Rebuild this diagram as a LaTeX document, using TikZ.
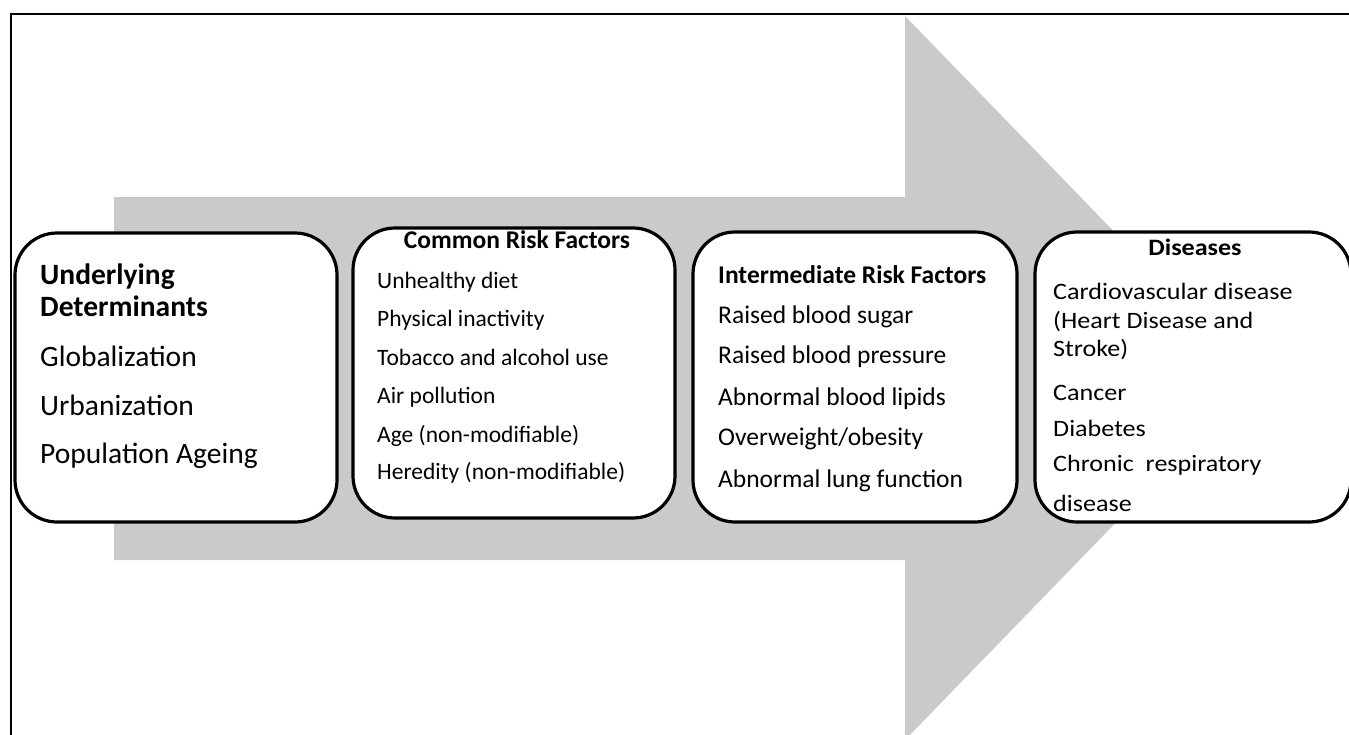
\documentclass[tikz,border=0pt]{standalone}
\usepackage{fontspec}
\setmainfont{Carlito}
\usepackage{graphicx}
\definecolor{arrowgray}{RGB}{202,202,202}
\tikzset{
  stage/.style={draw=black, line width=3.2pt, fill=white, rounded corners=42pt, inner sep=0pt},
  txt/.style={anchor=base west, inner sep=0pt},
  hdr/.style={anchor=base, inner sep=0pt},
}
\newcommand{\fsA}{\fontsize{29.5}{31}\selectfont}
\newcommand{\fsB}{\fontsize{23.5}{25}\selectfont}
\newcommand{\fsC}{\fontsize{25.5}{27}\selectfont}
\newcommand{\fsD}{\fontsize{23.5}{24}\selectfont}
\newcommand{\wide}[1]{\scalebox{1.11}[1]{#1}}
\begin{document}
\begin{tikzpicture}[x=1pt,y=-1pt]
\useasboundingbox (0,0) rectangle (1349,734);
\clip (0,0) rectangle (1349,734);
% frame
\draw[line width=2.5pt] (11,760) -- (11,14) -- (1380,14);
% big arrow
\coordinate (a1) at (114,197);
\coordinate (a2) at (905,197);
\coordinate (a3) at (905,16);
\coordinate (tip) at (1256,378);
\coordinate (a5) at (905,740);
\coordinate (a6) at (905,560);
\coordinate (a7) at (114,560);
\fill[arrowgray] (a1) -- (a2) -- (a3) -- (tip) -- (a5) -- (a6) -- (a7) -- cycle;
% boxes
\node[stage, minimum width=322pt, minimum height=289pt] (b1) at (176,377.5) {};
\node[stage, minimum width=322pt, minimum height=290pt] (b2) at (514,373) {};
\node[stage, minimum width=324pt, minimum height=290pt] (b3) at (855,377) {};
\node[stage, minimum width=316pt, minimum height=290pt] (b4) at (1193,377) {};
% box 1
\node[txt, font=\fsA\bfseries] (t1h1) at (40,284) {Underlying};
\node[txt, font=\fsA\bfseries] (t1h2) at (40,316) {Determinants};
\node[txt, font=\fsA] (t1a) at (40,366) {Globalization};
\node[txt, font=\fsA] (t1b) at (40,415) {Urbanization};
\node[txt, font=\fsA] (t1c) at (40,463) {Population Ageing};
% box 2
\node[hdr, font=\fsC\bfseries] (t2h) at (517,248) {Common Risk Factors};
\node[txt, font=\fsB] (t2a) at (377,288) {Unhealthy diet};
\node[txt, font=\fsB] (t2b) at (377,326) {Physical inactivity};
\node[txt, font=\fsB] (t2c) at (377,365) {Tobacco and alcohol use};
\node[txt, font=\fsB] (t2d) at (377,403) {Air pollution};
\node[txt, font=\fsB] (t2e) at (377,442) {Age (non-modifiable)};
\node[txt, font=\fsB] (t2f) at (377,479) {Heredity (non-modifiable)};
% box 3
\node[txt, font=\fsC\bfseries] (t3h) at (718,283) {Intermediate Risk Factors};
\node[txt, font=\fsC] (t3a) at (718,323) {Raised blood sugar};
\node[txt, font=\fsC] (t3b) at (718,363) {Raised blood pressure};
\node[txt, font=\fsC] (t3c) at (718,405) {Abnormal blood lipids};
\node[txt, font=\fsC] (t3d) at (718,445) {Overweight/obesity};
\node[txt, font=\fsC] (t3e) at (718,487) {Abnormal lung function};
% box 4
\node[hdr, font=\fsD\bfseries] (t4h) at (1195,255) {\wide{Diseases}};
\node[txt, font=\fsD] (t4a) at (1053,299) {\wide{Cardiovascular disease}};
\node[txt, font=\fsD] (t4b) at (1053,328) {\wide{(Heart Disease and}};
\node[txt, font=\fsD] (t4c) at (1053,356) {\wide{Stroke)}};
\node[txt, font=\fsD] (t4d) at (1053,400) {\wide{Cancer}};
\node[txt, font=\fsD] (t4e) at (1053,436) {\wide{Diabetes}};
\node[txt, font=\fsD] (t4f) at (1053,471) {\wide{Chronic\ \ respiratory}};
\node[txt, font=\fsD] (t4g) at (1053,511) {\wide{disease}};
\end{tikzpicture}
\end{document}
